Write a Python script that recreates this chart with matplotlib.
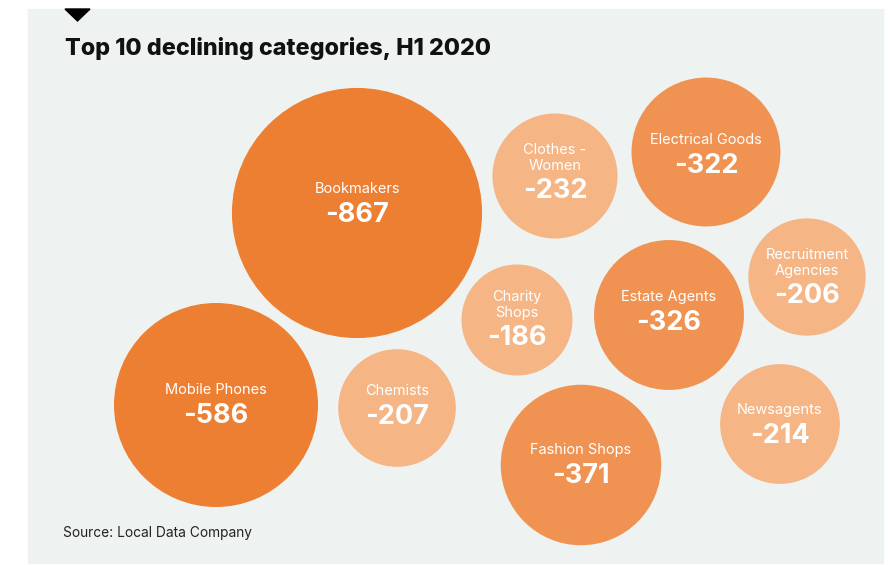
"""
Packed-bubble chart of the ten shop categories with the largest net
closures in H1 2020. Bubble area scales with the size of the decline.
"""

import matplotlib.pyplot as plt
from matplotlib.patches import Circle, Rectangle, Polygon

# --- data ---
categories = [
    "Bookmakers", "Mobile Phones", "Chemists", "Charity\nShops",
    "Clothes -\nWomen", "Electrical Goods", "Estate Agents",
    "Recruitment\nAgencies", "Newsagents", "Fashion Shops",
]
changes = [-867, -586, -207, -186, -232, -322, -326, -206, -214, -371]

# --- layout (pixel units, origin top-left) ---
centres = [
    (357, 213), (216, 405), (397, 408), (517, 320), (555, 176),
    (706, 152), (669, 315), (807, 277), (780, 424), (581, 465),
]
label_y = [189, 390, 391, 297, 150, 140, 297, 255, 410, 450]

DARK, MID, LIGHT = "#ED7F33", "#F09352", "#F5B585"
PANEL = "#EEF2F1"
FONT = ["Inter", "DejaVu Sans"]


def shade(v):
    v = abs(v)
    if v >= 500:
        return DARK
    if v >= 300:
        return MID
    return LIGHT


def radius(v):
    return 4.4 * abs(v) ** 0.5 - 4.5


W, H = 890, 565
fig = plt.figure(figsize=(W / 100, H / 100), dpi=100)
ax = fig.add_axes([0, 0, 1, 1])
ax.set_xlim(0, W)
ax.set_ylim(H, 0)
ax.axis("off")

# background panel and the small marker above the title
ax.add_patch(Rectangle((28, 9), 855, 554, color=PANEL, zorder=0))
ax.add_patch(Polygon([(65, 9), (90, 9), (77.5, 21)], closed=True,
                     color="black", zorder=1))

ax.text(65, 48, "Top 10 declining categories, H1 2020", family=FONT,
        fontsize=16.8, fontweight="heavy", color="#111111", va="center")

for name, val, (cx, cy), ty in zip(categories, changes, centres, label_y):
    ax.add_patch(Circle((cx, cy), radius(val), color=shade(val),
                        lw=0, zorder=2))
    lines = name.split("\n")
    # name lines drawn one by one so the spacing stays fixed
    for i, line in enumerate(lines):
        ax.text(cx, ty + i * 15.7, line, family=FONT, fontsize=10.5,
                color="white", ha="center", va="center", zorder=3)
    vy = ty + 25 if len(lines) == 1 else ty + 40
    ax.text(cx, vy + 1, f"{val}", family=FONT, fontsize=19.5,
            fontweight="bold", color="white", ha="center", va="center",
            zorder=3)

ax.text(63, 533, "Source: Local Data Company", family=FONT, fontsize=9.9,
        color="#222222", va="center")

fig.savefig("out.png", dpi=100, facecolor="white")
